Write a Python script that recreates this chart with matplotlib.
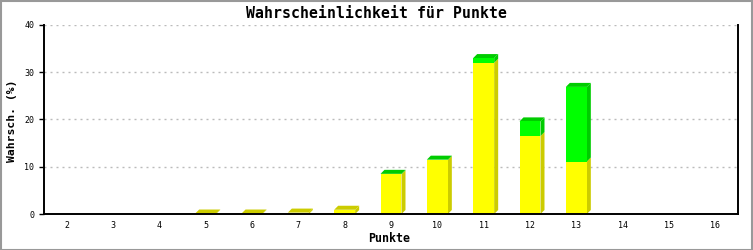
import matplotlib
matplotlib.use("Agg")
import matplotlib.pyplot as plt
from matplotlib.patches import Rectangle
import numpy as np

# ---- data ----
categories = [2, 3, 4, 5, 6, 7, 8, 9, 10, 11, 12, 13, 14, 15, 16]
yellow_vals = [0, 0, 0, 0.1, 0.1, 0.3, 0.9, 8.4, 11.4, 32.0, 16.5, 11.1, 0, 0, 0]
green_vals = [0, 0, 0, 0, 0, 0, 0, 0.1, 0.1, 1.0, 3.1, 15.8, 0, 0, 0]
y_ticks = [0, 10, 20, 30, 40]
title = "Wahrscheinlichkeit für Punkte"
xlabel = "Punkte"
ylabel = "Wahrsch. (%)"

# ---- style ----
W, H, DPI = 753, 250, 100
YEL, YEL_D = "#FFFF00", "#CCCC00"
GRN, GRN_D = "#00FF00", "#00CC00"
FONT = "DejaVu Sans Mono"
bar_w = 0.453
depth_px = 4

fig = plt.figure(figsize=(W / DPI, H / DPI), dpi=DPI)
fig.patch.set_facecolor("white")
ax_l, ax_b, ax_w, ax_h = 43.5 / W, 36 / H, 695 / W, 189 / H
ax = fig.add_axes([ax_l, ax_b, ax_w, ax_h])
xmin, xmax = categories[0] - 0.5, categories[-1] + 0.5
ymin, ymax = 0, 40
ax.set_xlim(xmin, xmax)
ax.set_ylim(ymin, ymax)

sx = (xmax - xmin) / (ax_w * W) * depth_px
sy = (ymax - ymin) / (ax_h * H) * depth_px

x = np.array(categories, dtype=float)
yv = np.array(yellow_vals)
gv = np.array(green_vals)

# grid
for t in y_ticks[1:]:
    ax.axhline(t, color="#BBBBBB", lw=1.0, ls=(0, (1.44, 2.88)), zorder=0)

for xi, y1, g1 in zip(x, yv, gv):
    total = y1 + g1
    if total <= 0:
        continue
    x0, x1 = xi - bar_w / 2, xi + bar_w / 2
    segs = []
    if y1 > 0:
        segs.append((0, y1, YEL, YEL_D))
    if g1 > 0:
        segs.append((y1, total, GRN, GRN_D))
    for b, t, c, cd in segs:
        # side face
        ax.fill([x1, x1 + sx, x1 + sx, x1], [b, b + sy, t + sy, t],
                color=cd, lw=0, zorder=2)
    top_col = segs[-1][3]
    ax.fill([x0, x1, x1 + sx, x0 + sx], [total, total, total + sy, total + sy],
            color=top_col, lw=0, zorder=3)

ax.bar(x, yv, width=bar_w, color=YEL, lw=0, zorder=4)
ax.bar(x, gv, bottom=yv, width=bar_w, color=GRN, lw=0, zorder=4)

# axes styling
ax.spines["top"].set_visible(False)
for s in ("left", "bottom", "right"):
    ax.spines[s].set_color("black")
    ax.spines[s].set_linewidth(1.4)
ax.spines["bottom"].set_zorder(5)
ax.set_xticks(categories)
ax.set_xticklabels([str(c) for c in categories], fontsize=6, family=FONT)
ax.set_yticks(y_ticks)
ax.set_yticklabels([str(t) for t in y_ticks], fontsize=6, family=FONT)
ax.tick_params(axis="x", length=0, pad=5)
ax.tick_params(axis="y", length=3.6, width=1, pad=3)
ax.set_facecolor("white")

fig.text(0.5, 1 - 13 / H, title, ha="center", va="center",
         fontsize=10.7, family=FONT, fontweight="bold")
fig.text(389 / W, 1 - 239 / H, xlabel, ha="center", va="center",
         fontsize=8.4, family=FONT, fontweight="bold")
fig.text(12 / W, 1 - 121 / H, ylabel, ha="center", va="center", rotation=90,
         fontsize=8.2, family=FONT, fontweight="bold")

# figure border
fig.add_artist(Rectangle((0.5 / W, 0.5 / H), 1 - 1.5 / W, 1 - 1.5 / H,
                         transform=fig.transFigure, fill=False,
                         edgecolor="#999999", lw=1.5))

fig.savefig("out.png", dpi=DPI)
